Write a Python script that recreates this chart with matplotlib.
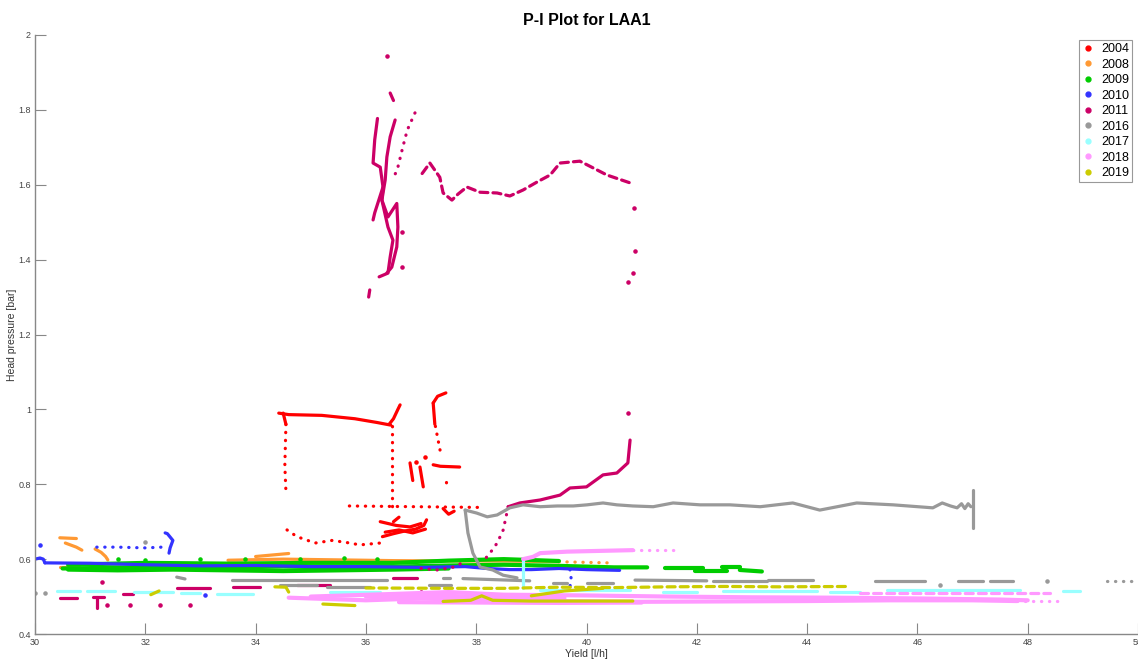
import matplotlib
matplotlib.use("Agg")
import matplotlib.pyplot as plt
from matplotlib.lines import Line2D

plt.rcParams['font.family'] = ['Liberation Sans', 'DejaVu Sans']

# Years shown in the legend and their marker colours
years = ['2004', '2008', '2009', '2010', '2011', '2016', '2017', '2018', '2019']
colors = ['#ff0000', '#ff9933', '#00cc00', '#3333ff', '#cc0066',
          '#999999', '#99ffff', '#ff99ff', '#cccc00']

x_ticks = [30, 32, 34, 36, 38, 40, 42, 44, 46, 48, 50]
y_ticks = [0.4, 0.6, 0.8, 1, 1.2, 1.4, 1.6, 1.8, 2]

# ---- 2004 ----
yr2004_solid = [
    ([34.42, 34.6, 35.2, 35.8, 36.2, 36.45], [0.99, 0.986, 0.984, 0.975, 0.965, 0.958]),
    ([34.5, 34.55], [0.99, 0.96]),
    ([36.42, 36.5, 36.58, 36.62], [0.96, 0.975, 1.0, 1.012]),
    ([37.22, 37.3, 37.45], [1.017, 1.035, 1.044]),
    ([37.22, 37.25], [1.017, 0.96]),
    ([37.22, 37.35, 37.7], [0.852, 0.848, 0.846]),
    ([36.8, 36.85], [0.857, 0.81]),
    ([36.98, 37.04], [0.846, 0.793]),
    ([37.4, 37.5, 37.6], [0.735, 0.72, 0.728]),
    ([36.3, 36.5, 36.7, 36.9, 37.05, 37.1], [0.66, 0.668, 0.675, 0.68, 0.69, 0.705]),
    ([36.26, 36.55, 36.8, 37.0], [0.7, 0.69, 0.686, 0.695]),
    ([36.35, 36.6, 36.85, 37.08], [0.672, 0.678, 0.67, 0.68]),
    ([36.5, 36.6], [0.7, 0.712]),
]
yr2004_dots = [
    ([34.55, 34.53, 34.55], [0.96, 0.85, 0.78]),
    ([36.47, 36.47], [0.955, 0.74]),
    ([37.26, 37.35], [0.955, 0.887]),
    ([37.45, 37.45], [0.806, 0.79]),
    ([35.7, 38.15], [0.742, 0.738]),
    ([34.57, 34.75, 35.08, 35.39, 35.71, 35.89, 36.26], [0.678, 0.66, 0.643, 0.65, 0.643, 0.638, 0.643]),
]
yr2004_pts = ([37.07, 36.9], [0.873, 0.86])

# ---- 2008 ----
yr2008_solid = [
    ([30.45, 30.75], [0.657, 0.655]),
    ([30.55, 30.75, 30.85], [0.643, 0.632, 0.624]),
    ([31.09, 31.2, 31.28, 31.32], [0.627, 0.618, 0.607, 0.598]),
    ([33.5, 34.5, 35.5, 36.5, 37.5, 38.5, 39.5], [0.597, 0.6, 0.598, 0.596, 0.595, 0.595, 0.593]),
    ([34.0, 34.6], [0.607, 0.615]),
    ([30.45, 30.8], [0.58, 0.58]),
]
yr2008_dots = [
    ([39.5, 40.4], [0.593, 0.59]),
]
yr2008_pts = ([], [])

# ---- 2009 ----
yr2009_solid = [
    ([30.5, 31.5, 32.5, 33.5, 34.5, 35.5, 36.5, 37.5, 38.5, 39.5, 40.5, 41.1],
     [0.575, 0.577, 0.58, 0.578, 0.58, 0.578, 0.58, 0.583, 0.585, 0.582, 0.578, 0.578]),
    ([30.6, 32.0, 33.5, 35.0, 36.5, 37.5, 38.5, 39.5],
     [0.585, 0.59, 0.588, 0.59, 0.59, 0.596, 0.6, 0.595]),
    ([30.6, 31.5, 32.5, 33.5, 34.5, 35.5, 36.5, 37.5],
     [0.572, 0.57, 0.572, 0.57, 0.568, 0.57, 0.572, 0.575]),
    ([41.42, 42.11], [0.576, 0.576]),
    ([41.97, 42.55], [0.568, 0.568]),
    ([42.46, 42.78], [0.578, 0.578]),
    ([42.78, 43.18], [0.571, 0.567]),
]
yr2009_dots = []
yr2009_pts = ([31.5, 32.0, 33.0, 33.8, 34.8, 35.6, 36.2], [0.6, 0.598, 0.6, 0.601, 0.6, 0.602, 0.6])

# ---- 2010 ----
yr2010_solid = [
    ([30.0, 30.09, 30.15, 30.18], [0.6, 0.603, 0.6, 0.59]),
    ([30.18, 31.0, 32.0, 33.0, 34.0, 35.0, 36.0, 37.0, 37.8, 38.2, 38.6, 39.0, 39.5, 40.0, 40.6],
     [0.59, 0.589, 0.585, 0.582, 0.583, 0.58, 0.58, 0.578, 0.58, 0.575, 0.572, 0.572, 0.575, 0.572, 0.57]),
    ([32.36, 32.4, 32.5, 32.45, 32.43], [0.67, 0.668, 0.65, 0.63, 0.616]),
]
yr2010_dots = [
    ([31.12, 31.5, 32.0, 32.3], [0.632, 0.632, 0.63, 0.632]),
    ([39.7, 39.72, 39.7], [0.572, 0.55, 0.525]),
    ([38.0, 39.4], [0.499, 0.497]),
]
yr2010_pts = ([30.09, 33.08], [0.638, 0.505])

# ---- 2011 ----
yr2011_solid = [
    ([36.21, 36.16, 36.13, 36.26, 36.31, 36.29, 36.4, 36.49, 36.44, 36.4, 36.24],
     [1.777, 1.72, 1.658, 1.647, 1.594, 1.559, 1.487, 1.452, 1.407, 1.364, 1.354]),
    ([36.53, 36.44, 36.38, 36.35, 36.29, 36.4, 36.56, 36.58, 36.56, 36.47, 36.38],
     [1.773, 1.728, 1.674, 1.613, 1.559, 1.514, 1.55, 1.487, 1.434, 1.38, 1.364]),
    ([36.31, 36.16, 36.13], [1.594, 1.525, 1.506]),
    ([36.44, 36.5], [1.845, 1.825]),
    ([36.07, 36.05], [1.319, 1.3]),
    ([40.79, 40.75, 40.55, 40.3, 40.0, 39.7, 39.52, 39.16, 38.79, 38.58],
     [0.918, 0.857, 0.83, 0.825, 0.793, 0.79, 0.771, 0.758, 0.75, 0.74]),
    ([30.45, 30.76], [0.496, 0.496]),
    ([31.05, 31.25], [0.5, 0.5]),
    ([31.12, 31.12], [0.5, 0.47]),
    ([31.6, 31.78], [0.507, 0.507]),
    ([32.57, 33.17], [0.523, 0.523]),
    ([33.59, 34.08], [0.526, 0.526]),
    ([34.75, 35.35], [0.531, 0.531]),
    ([36.49, 36.93], [0.55, 0.55]),
]
yr2011_dots = [
    ([36.89, 36.75, 36.67, 36.58, 36.49], [1.792, 1.746, 1.701, 1.647, 1.613]),
    ([38.58, 38.49, 38.38, 38.25, 38.1], [0.74, 0.678, 0.643, 0.616, 0.59]),
    ([37.0, 37.3, 37.6, 37.8], [0.575, 0.571, 0.579, 0.594]),
]
yr2011_dashes = [
    ([37.02, 37.16, 37.34, 37.4, 37.56, 37.67, 37.83, 38.07, 38.38, 38.61, 38.85, 39.1, 39.34,
      39.52, 39.88, 40.12, 40.37, 40.79],
     [1.63, 1.658, 1.62, 1.578, 1.559, 1.575, 1.594, 1.58, 1.578, 1.57, 1.586, 1.607, 1.626,
      1.658, 1.663, 1.645, 1.626, 1.605]),
]
yr2011_pts = ([36.38, 36.65, 36.65, 40.86, 40.88, 40.84, 40.75, 40.75, 31.21, 31.3, 31.72, 32.27, 32.81, 37.0],
              [1.944, 1.474, 1.38, 1.538, 1.423, 1.364, 1.34, 0.99, 0.539, 0.478, 0.478, 0.478, 0.478, 0.512])

# ---- 2016 ----
yr2016_solid = [
    ([37.8, 38.01, 38.2, 38.38, 38.61, 38.85, 39.16, 39.47, 39.76, 40.01, 40.3, 40.55, 40.84,
      41.21, 41.57, 42.06, 42.6, 43.15, 43.74, 44.23, 44.9, 45.56, 46.28, 46.45, 46.6, 46.72,
      46.8, 46.86, 46.92, 46.97],
     [0.731, 0.723, 0.713, 0.718, 0.737, 0.745, 0.74, 0.742, 0.742, 0.745, 0.75, 0.745, 0.742,
      0.74, 0.75, 0.745, 0.745, 0.74, 0.75, 0.731, 0.75, 0.745, 0.737, 0.75, 0.742, 0.737,
      0.748, 0.735, 0.748, 0.74]),
    ([47.01, 47.01], [0.785, 0.683]),
    ([37.8, 37.85, 37.94, 38.07, 38.3, 38.49, 38.74], [0.731, 0.67, 0.616, 0.579, 0.571, 0.557, 0.55]),
    ([32.57, 32.72], [0.552, 0.547]),
    ([33.57, 36.38], [0.544, 0.544]),
    ([34.44, 35.11], [0.531, 0.531]),
    ([35.29, 36.07], [0.526, 0.526]),
    ([37.4, 37.52], [0.55, 0.55]),
    ([37.76, 38.97], [0.548, 0.542]),
    ([37.14, 37.55], [0.531, 0.531]),
    ([39.39, 39.65], [0.536, 0.536]),
    ([40.0, 40.48], [0.536, 0.536]),
    ([40.88, 42.18], [0.544, 0.542]),
    ([42.29, 43.27], [0.542, 0.542]),
    ([43.29, 44.11], [0.544, 0.544]),
    ([45.23, 46.14], [0.542, 0.542]),
    ([46.74, 47.19], [0.542, 0.542]),
    ([47.32, 47.73], [0.542, 0.542]),
]
yr2016_dots = [
    ([49.44, 50.0], [0.542, 0.542]),
]
yr2016_pts = ([30.0, 30.18, 31.99, 46.41, 48.35], [0.51, 0.51, 0.646, 0.53, 0.542])

# ---- 2017 ----
yr2017_solid = [
    ([30.4, 30.82], [0.515, 0.515]),
    ([30.95, 31.45], [0.515, 0.515]),
    ([31.8, 32.5], [0.512, 0.512]),
    ([32.65, 33.0], [0.51, 0.51]),
    ([33.3, 33.95], [0.507, 0.507]),
    ([35.35, 36.26], [0.512, 0.512]),
    ([38.85, 38.85], [0.598, 0.523]),
    ([39.16, 40.79], [0.518, 0.518]),
    ([41.39, 42.0], [0.512, 0.512]),
    ([42.48, 44.18], [0.515, 0.515]),
    ([44.42, 44.96], [0.512, 0.512]),
    ([45.45, 47.86], [0.518, 0.518]),
    ([48.64, 48.95], [0.515, 0.515]),
]
yr2017_dots = []
yr2017_pts = ([], [])

# ---- 2018 ----
yr2018_solid = [
    ([38.85, 39.03, 39.16, 39.65, 40.24, 40.84], [0.6, 0.606, 0.616, 0.62, 0.622, 0.624]),
    ([35.0, 36.5, 37.5, 38.5, 40.0, 41.5, 43.0, 44.5, 46.0, 47.5, 48.0],
     [0.5, 0.507, 0.512, 0.505, 0.503, 0.5, 0.498, 0.497, 0.495, 0.492, 0.49]),
    ([34.6, 36.0, 37.0, 38.0, 39.5, 41.0, 42.5, 44.0, 45.5, 47.0, 47.8],
     [0.497, 0.49, 0.495, 0.49, 0.488, 0.486, 0.487, 0.488, 0.49, 0.49, 0.488]),
    ([36.6, 38.0, 39.5, 41.0], [0.485, 0.484, 0.483, 0.484]),
    ([36.0, 37.2, 38.4, 39.6], [0.5, 0.503, 0.498, 0.496]),
]
yr2018_dots = [
    ([40.84, 41.6], [0.624, 0.624]),
    ([47.8, 48.6], [0.488, 0.488]),
]
yr2018_dashes = [
    ([44.96, 48.4], [0.51, 0.51]),
]
yr2018_pts = ([], [])

# ---- 2019 ----
yr2019_solid = [
    ([32.1, 32.25], [0.505, 0.515]),
    ([34.35, 34.55, 34.6], [0.526, 0.525, 0.512]),
    ([35.22, 35.8], [0.48, 0.476]),
    ([37.4, 37.9, 38.1, 38.3, 39.0, 40.0, 40.84], [0.487, 0.49, 0.502, 0.49, 0.488, 0.488, 0.488]),
    ([39.0, 39.6, 40.3], [0.502, 0.515, 0.522]),
]
yr2019_dots = []
yr2019_dashes = [
    ([36.0, 37.5, 38.5, 39.5, 40.5, 41.5, 42.5, 43.5, 44.78],
     [0.523, 0.522, 0.522, 0.525, 0.524, 0.526, 0.527, 0.526, 0.527]),
]
yr2019_pts = ([], [])

solids = [yr2004_solid, yr2008_solid, yr2009_solid, yr2010_solid, yr2011_solid,
          yr2016_solid, yr2017_solid, yr2018_solid, yr2019_solid]
dotted = [yr2004_dots, yr2008_dots, yr2009_dots, yr2010_dots, yr2011_dots,
          yr2016_dots, yr2017_dots, yr2018_dots, yr2019_dots]
dashed = [[], [], [], [], yr2011_dashes, [], [], yr2018_dashes, yr2019_dashes]
points = [yr2004_pts, yr2008_pts, yr2009_pts, yr2010_pts, yr2011_pts,
          yr2016_pts, yr2017_pts, yr2018_pts, yr2019_pts]

fig = plt.figure(figsize=(11.38, 6.59), dpi=100)
ax = fig.add_axes([35 / 1138, 25 / 659, 1103 / 1138, 599 / 659])

for i, c in enumerate(colors):
    lw = 3.0 if years[i] in ('2009', '2018') else 2.3
    for xs, ys in solids[i]:
        ax.plot(xs, ys, color=c, lw=lw, solid_capstyle='round', solid_joinstyle='round')
    for xs, ys in dotted[i]:
        ax.plot(xs, ys, color=c, lw=2.3, linestyle=(0, (0.1, 2.4)), dash_capstyle='round')
    for xs, ys in dashed[i]:
        ax.plot(xs, ys, color=c, lw=2.3, linestyle=(0, (2.5, 1.6)), dash_capstyle='round')
    px, py = points[i]
    if px:
        ax.plot(px, py, '.', color=c, ms=4.5, ls='none')

ax.set_xlim(30, 50)
ax.set_ylim(0.4, 2)
ax.set_xticks(x_ticks)
ax.set_xticklabels([str(t) for t in x_ticks])
ax.set_yticks(y_ticks)
ax.set_yticklabels(['0.4', '0.6', '0.8', '1', '1.2', '1.4', '1.6', '1.8', '2'])
ax.tick_params(direction='in', length=8, width=0.8, color='#888888',
               labelcolor='#444444', labelsize=6.5, pad=3)
for s in ['top', 'right']:
    ax.spines[s].set_visible(False)
for s in ['left', 'bottom']:
    ax.spines[s].set_color('#888888')
    ax.spines[s].set_linewidth(1.0)

ax.set_title('P-I Plot for LAA1', fontsize=11.5, fontweight='bold', pad=7)
ax.set_xlabel('Yield [l/h]', fontsize=7.5, color='#333333', labelpad=1)
ax.set_ylabel('Head pressure [bar]', fontsize=7.5, color='#333333', labelpad=1)

handles = [Line2D([], [], marker='.', ls='none', color=c, ms=7) for c in colors]
leg = fig.legend(handles, years, loc='upper right', bbox_to_anchor=(1132 / 1138, 1 - 40 / 659),
                 fontsize=9, frameon=True, fancybox=False, framealpha=1,
                 edgecolor='#999999', handlelength=1.0, handletextpad=0.5,
                 labelspacing=0.28, borderpad=0.25, borderaxespad=0)
leg.get_frame().set_linewidth(0.8)

fig.savefig('out.png', dpi=100)
